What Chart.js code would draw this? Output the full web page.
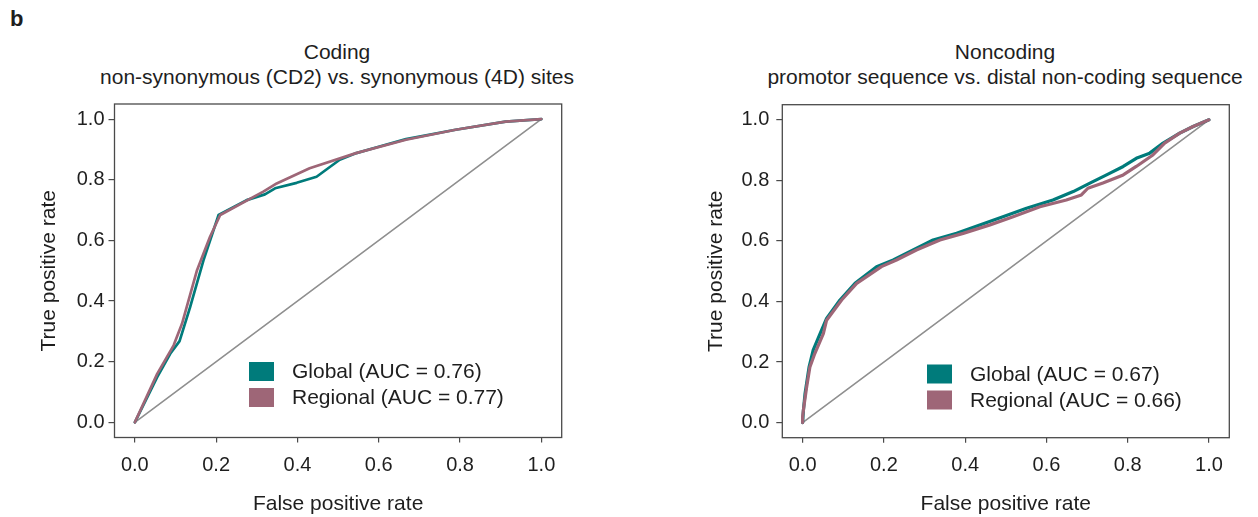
<!DOCTYPE html>
<html>
<head>
<meta charset="utf-8">
<script src="https://cdn.jsdelivr.net/npm/chart.js@4.4.1/dist/chart.umd.min.js"></script>
<style>
  html, body { margin:0; padding:0; background:#fff; }
  body { width:1258px; height:517px; position:relative; overflow:hidden; font-family:"Liberation Sans", Arial, sans-serif; color:#1e1e1e; }
  .cv { position:absolute; top:0; }
  .panel { position:absolute; left:10px; top:6px; font-weight:bold; font-size:22px; }
  .ttl { position:absolute; text-align:center; font-size:21px; line-height:25px; white-space:nowrap; }
</style>
</head>
<body>
<div class="panel">b</div>
<div class="ttl" style="left:37px;width:600px;top:39px;">Coding<br>non-synonymous (CD2) vs. synonymous (4D) sites</div>
<div class="ttl" style="left:705px;width:600px;top:39px;">Noncoding<br>promotor sequence vs. distal non-coding sequence</div>
<div class="cv" style="left:0;width:629px;height:517px;"><canvas id="c1" width="629" height="517"></canvas></div>
<div class="cv" style="left:629px;width:629px;height:517px;"><canvas id="c2" width="629" height="517"></canvas></div>
<script>
// ---- data ----
const tickValues = [0.0, 0.2, 0.4, 0.6, 0.8, 1.0];
const seriesLabels = ['Global', 'Regional'];
const codingAUC = ['0.76', '0.77'];
const noncodingAUC = ['0.67', '0.66'];

const codingGlobalFpr = [0, 0.055, 0.087, 0.110, 0.136, 0.169, 0.206, 0.275, 0.320, 0.345, 0.398, 0.447, 0.504, 0.545, 0.602, 0.667, 0.789, 0.912, 1.0];
const codingGlobalTpr = [0, 0.149, 0.226, 0.268, 0.380, 0.535, 0.684, 0.733, 0.752, 0.772, 0.790, 0.810, 0.866, 0.888, 0.910, 0.934, 0.965, 0.992, 1.0];
const codingRegionalFpr = [0, 0.055, 0.0955, 0.116, 0.153, 0.185, 0.210, 0.316, 0.349, 0.430, 0.544, 0.667, 0.789, 0.912, 1.0];
const codingRegionalTpr = [0, 0.160, 0.254, 0.325, 0.502, 0.612, 0.684, 0.761, 0.788, 0.838, 0.888, 0.932, 0.965, 0.992, 1.0];

const noncodingGlobalFpr = [0, 0.002, 0.006, 0.016, 0.026, 0.043, 0.059, 0.092, 0.129, 0.182, 0.223, 0.272, 0.321, 0.379, 0.436, 0.493, 0.551, 0.616, 0.666, 0.707, 0.748, 0.789, 0.821, 0.854, 0.887, 0.928, 0.961, 1.0];
const noncodingGlobalTpr = [0, 0.041, 0.096, 0.184, 0.239, 0.294, 0.344, 0.405, 0.460, 0.515, 0.537, 0.570, 0.603, 0.625, 0.653, 0.680, 0.708, 0.735, 0.763, 0.791, 0.818, 0.846, 0.873, 0.890, 0.923, 0.956, 0.978, 1.0];
const noncodingRegionalFpr = [0, 0.0, 0.003, 0.010, 0.018, 0.030, 0.051, 0.059, 0.096, 0.133, 0.194, 0.231, 0.280, 0.338, 0.395, 0.461, 0.518, 0.584, 0.649, 0.686, 0.702, 0.739, 0.789, 0.821, 0.862, 0.891, 0.928, 0.961, 1.0];
const noncodingRegionalTpr = [0, 0.02, 0.052, 0.118, 0.184, 0.228, 0.294, 0.338, 0.405, 0.460, 0.515, 0.537, 0.570, 0.603, 0.625, 0.653, 0.680, 0.713, 0.735, 0.752, 0.774, 0.791, 0.818, 0.846, 0.884, 0.923, 0.956, 0.978, 1.0];

const chanceFpr = [0, 1];
const chanceTpr = [0, 1];

// ---- styles ----
const TEAL = '#007b7b';
const MAUVE = '#9e6677';
const GRAY = '#8f8f8f';
const FONT = '"Liberation Sans", Arial, sans-serif';

function pts(xs, ys) { return xs.map((x, i) => ({x: x, y: ys[i]})); }

const framePlugin = {
  id: 'frame',
  afterDraw(chart) {
    const a = chart.chartArea, ctx = chart.ctx;
    ctx.save();
    ctx.strokeStyle = '#4a4a4a';
    ctx.lineWidth = 1.3;
    ctx.strokeRect(a.left, a.top, a.right - a.left, a.bottom - a.top);
    ctx.restore();
  }
};

const legendPlugin = {
  id: 'boxLegend',
  afterDraw(chart, args, opts) {
    const ctx = chart.ctx;
    ctx.save();
    ctx.font = '21px ' + FONT;
    ctx.textBaseline = 'middle';
    ctx.textAlign = 'left';
    const items = chart.data.datasets.filter(d => d.inLegend);
    items.forEach((d, i) => {
      const y = opts.y + i * 26;
      ctx.fillStyle = d.borderColor;
      ctx.fillRect(opts.x, y - 9.5, 25, 19);
      ctx.fillStyle = '#1e1e1e';
      ctx.fillText(d.label, opts.x + 43, y + 1);
    });
    ctx.restore();
  }
};

function makeChart(id, g, r, auc, cfg) {
  const datasets = [
    { label: 'chance', data: pts(chanceFpr, chanceTpr), borderColor: GRAY, borderWidth: 1.6, order: 3, inLegend: false },
    { label: seriesLabels[0] + ' (AUC = ' + auc[0] + ')', data: pts(g[0], g[1]), borderColor: TEAL, borderWidth: cfg.lw, order: 2, inLegend: true },
    { label: seriesLabels[1] + ' (AUC = ' + auc[1] + ')', data: pts(r[0], r[1]), borderColor: MAUVE, borderWidth: cfg.lw, order: 1, inLegend: true }
  ];
  datasets.forEach(d => { d.pointRadius = 0; d.fill = false; d.tension = 0; d.borderJoinStyle = 'round'; d.borderCapStyle = 'round'; });
  const tickFont = { family: FONT, size: 20 };
  const titleFont = { family: FONT, size: 21 };
  const setTicks = s => { s.ticks = tickValues.map(v => ({ value: v })); };
  return new Chart(document.getElementById(id), {
    type: 'line',
    data: { datasets },
    options: {
      responsive: false,
      animation: false,
      events: [],
      layout: { padding: { left: 0, right: cfg.padRight, top: cfg.padTop, bottom: 0 } },
      plugins: { legend: { display: false }, tooltip: { enabled: false }, title: { display: false },
                 boxLegend: { x: cfg.legX, y: cfg.legY } },
      scales: {
        x: {
          type: 'linear', min: -0.05, max: 1.05,
          afterBuildTicks: setTicks,
          afterFit: s => { s.height = cfg.xHeight; },
          grid: { display: true, drawOnChartArea: false, drawTicks: true, tickLength: 5, color: '#4a4a4a', lineWidth: 1.2 },
          border: { display: false },
          ticks: { font: tickFont, color: '#1e1e1e', padding: 11, maxRotation: 0, callback: v => v.toFixed(1) },
          title: { display: true, text: 'False positive rate', font: titleFont, color: '#1e1e1e', padding: { top: 0, bottom: 0 } }
        },
        y: {
          type: 'linear', min: -0.05, max: 1.05,
          afterBuildTicks: setTicks,
          afterFit: s => { s.width = cfg.yWidth; },
          grid: { display: true, drawOnChartArea: false, drawTicks: true, tickLength: 6, color: '#4a4a4a', lineWidth: 1.2 },
          border: { display: false },
          ticks: { font: tickFont, color: '#1e1e1e', padding: cfg.yTickPad, callback: v => v.toFixed(1) },
          title: { display: true, text: 'True positive rate', font: titleFont, color: '#1e1e1e', padding: { top: cfg.yTitlePad, bottom: 0 } }
        }
      }
    },
    plugins: [framePlugin, legendPlugin]
  });
}

makeChart('c1', [codingGlobalFpr, codingGlobalTpr], [codingRegionalFpr, codingRegionalTpr], codingAUC,
  { padRight: 67.3, padTop: 104, xHeight: 79.5, yWidth: 114.5, yTickPad: 4, yTitlePad: 37, legX: 249, legY: 371.5, lw: 2.7 });
makeChart('c2', [noncodingGlobalFpr, noncodingGlobalTpr], [noncodingRegionalFpr, noncodingRegionalTpr], noncodingAUC,
  { padRight: 28.7, padTop: 104.7, xHeight: 79.3, yWidth: 153.3, yTickPad: 7, yTitlePad: 75, legX: 298, legY: 374, lw: 3.2 });
</script>
</body>
</html>
